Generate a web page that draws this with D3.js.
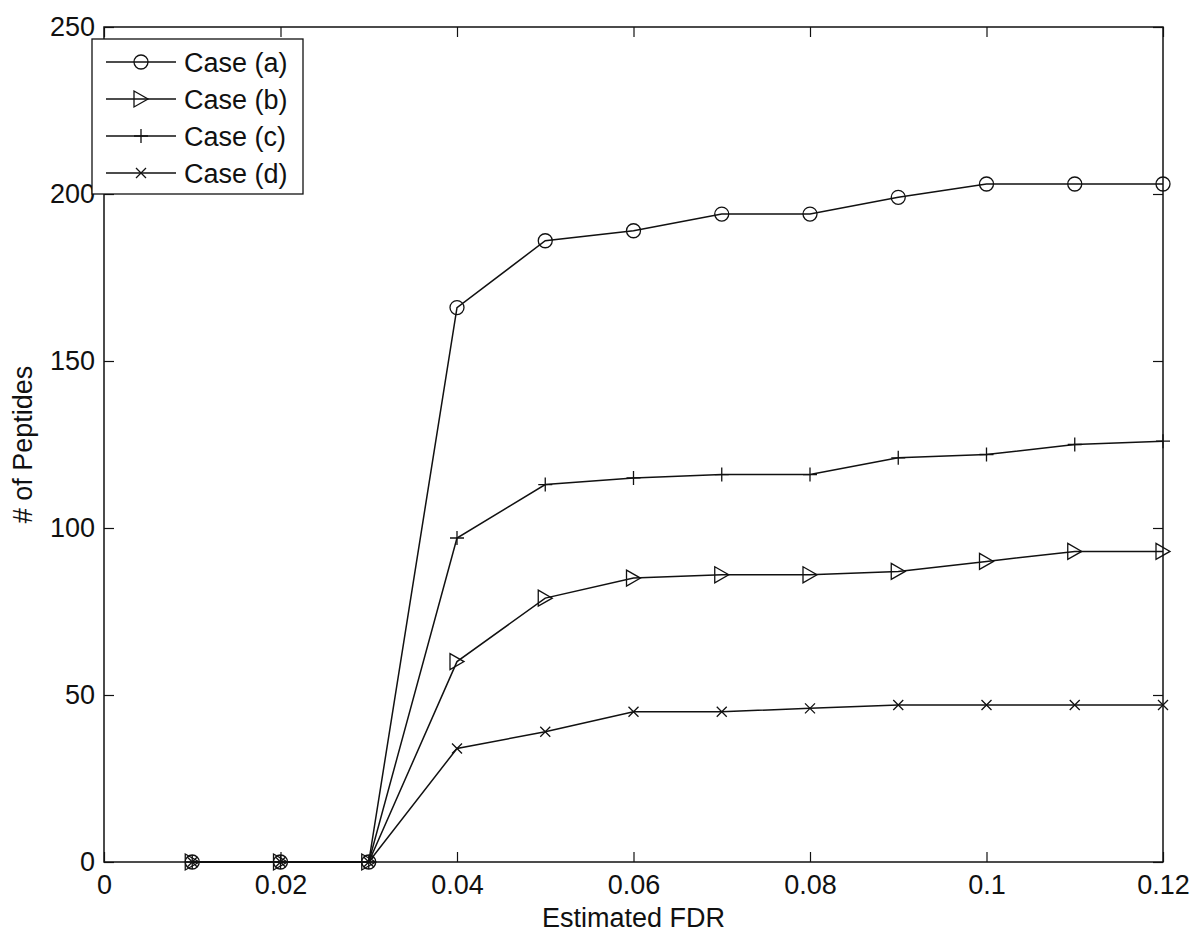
<!DOCTYPE html>
<html><head><meta charset="utf-8">
<script src="https://cdn.jsdelivr.net/npm/d3@7"></script>
<style>body{margin:0;background:#fff}svg{font-family:"Liberation Sans",Arial,sans-serif}</style>
</head><body>
<svg id="chart" width="1200" height="939"></svg>
<script>
const fdr = [0.01,0.02,0.03,0.04,0.05,0.06,0.07,0.08,0.09,0.10,0.11,0.12];
const caseA = [0,0,0,166,186,189,194,194,199,203,203,203];
const caseB = [0,0,0,60,79,85,86,86,87,90,93,93];
const caseC = [0,0,0,97,113,115,116,116,121,122,125,126];
const caseD = [0,0,0,34,39,45,45,46,47,47,47,47];
const seriesNames = ["Case (a)","Case (b)","Case (c)","Case (d)"];
const xTicks = [0,0.02,0.04,0.06,0.08,0.1,0.12];
const yTicks = [0,50,100,150,200,250];

const svg = d3.select("#chart");
const L=104,R=1163,T=27,B=862;
const x = d3.scaleLinear().domain([0,0.12]).range([L,R]);
const y = d3.scaleLinear().domain([0,250]).range([B,T]);
const col="#111";
const FS=27;

// frame
svg.append("rect").attr("x",L).attr("y",T).attr("width",R-L).attr("height",B-T)
  .attr("fill","none").attr("stroke",col).attr("stroke-width",1.5);

// axes
const fmtX = d=> d===0?"0":String(+d.toFixed(2));
const xb = svg.append("g").attr("transform",`translate(0,${B})`)
  .call(d3.axisBottom(x).tickValues(xTicks).tickSize(-10).tickPadding(13).tickFormat(fmtX));
const xt = svg.append("g").attr("transform",`translate(0,${T})`)
  .call(d3.axisTop(x).tickValues(xTicks).tickSize(-10).tickFormat(""));
const yl = svg.append("g").attr("transform",`translate(${L},0)`)
  .call(d3.axisLeft(y).tickValues(yTicks).tickSize(-10).tickPadding(9));
const yr = svg.append("g").attr("transform",`translate(${R},0)`)
  .call(d3.axisRight(y).tickValues(yTicks).tickSize(-10).tickFormat(""));
[xb,xt,yl,yr].forEach(g=>{
  g.select(".domain").remove();
  g.selectAll("line").attr("stroke",col).attr("stroke-width",1.2);
  g.selectAll("text").attr("font-size",FS).attr("fill",col).attr("font-family","Liberation Sans, Arial, sans-serif");
});

// labels
svg.append("text").attr("x",(L+R)/2).attr("y",927).attr("text-anchor","middle")
  .attr("font-size",FS).attr("fill",col).text("Estimated FDR");
svg.append("text").attr("transform",`translate(32,${(T+B)/2}) rotate(-90)`).attr("text-anchor","middle")
  .attr("font-size",FS).attr("fill",col).text("# of Peptides");

// markers
function marker(g,type,cx,cy){
  if(type==="o") g.append("circle").attr("cx",cx).attr("cy",cy).attr("r",7).attr("fill","none").attr("stroke",col).attr("stroke-width",1.3);
  else if(type===">") g.append("path").attr("d",`M${cx-7},${cy-8}L${cx+7},${cy}L${cx-7},${cy+8}Z`).attr("fill","none").attr("stroke",col).attr("stroke-width",1.3);
  else if(type==="+") g.append("path").attr("d",`M${cx-7},${cy}H${cx+7}M${cx},${cy-7}V${cy+7}`).attr("stroke",col).attr("stroke-width",1.3);
  else if(type==="x") g.append("path").attr("d",`M${cx-5},${cy-5}L${cx+5},${cy+5}M${cx-5},${cy+5}L${cx+5},${cy-5}`).attr("stroke",col).attr("stroke-width",1.3);
}
const series = [caseA,caseB,caseC,caseD];
const types = ["o",">","+","x"];
const line = d3.line().x((d,i)=>x(fdr[i])).y(d=>y(d));
series.forEach((s,k)=>{
  const g = svg.append("g");
  g.append("path").datum(s).attr("d",line).attr("fill","none").attr("stroke",col).attr("stroke-width",1.5);
  s.forEach((v,i)=>marker(g,types[k],x(fdr[i]),y(v)));
});

// legend
const lg = svg.append("g");
lg.append("rect").attr("x",92).attr("y",39).attr("width",211).attr("height",155)
  .attr("fill","#fff").attr("stroke",col).attr("stroke-width",1.3);
seriesNames.forEach((n,k)=>{
  const yy = 62 + k*37;
  lg.append("line").attr("x1",106).attr("x2",176).attr("y1",yy).attr("y2",yy).attr("stroke",col).attr("stroke-width",1.3);
  marker(lg,types[k],141,yy);
  lg.append("text").attr("x",184).attr("y",yy+10).attr("font-size",FS).attr("fill",col).text(n);
});
</script>
</body></html>
